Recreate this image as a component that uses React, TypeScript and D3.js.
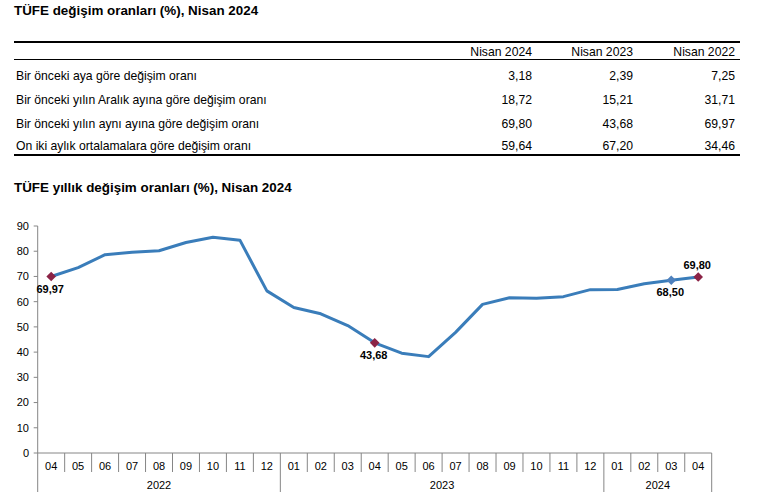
import React from 'react';
import * as d3 from 'd3';

const tableTitle = 'TÜFE değişim oranları (%), Nisan 2024';
const chartTitle = 'TÜFE yıllık değişim oranları (%), Nisan 2024';

const tableColumns = ['Nisan 2024', 'Nisan 2023', 'Nisan 2022'];
const tableRowLabels = [
    'Bir önceki aya göre değişim oranı',
    'Bir önceki yılın Aralık ayına göre değişim oranı',
    'Bir önceki yılın aynı ayına göre değişim oranı',
    'On iki aylık ortalamalara göre değişim oranı'
];
const tableValues = [
    ['3,18', '2,39', '7,25'],
    ['18,72', '15,21', '31,71'],
    ['69,80', '43,68', '69,97'],
    ['59,64', '67,20', '34,46']
];

const months = ['04', '05', '06', '07', '08', '09', '10', '11', '12',
    '01', '02', '03', '04', '05', '06', '07', '08', '09', '10', '11', '12',
    '01', '02', '03', '04'];
const years = ['2022', '2023', '2024'];
// how many months of each year are on the axis
const yearCounts = [9, 12, 4];
const inflation = [69.97, 73.50, 78.62, 79.60, 80.21, 83.45, 85.51, 84.39, 64.27,
    57.68, 55.18, 50.51, 43.68, 39.59, 38.21, 47.83, 58.94, 61.53, 61.36, 61.98, 64.77,
    64.86, 67.07, 68.50, 69.80];
const yTicks = [0, 10, 20, 30, 40, 50, 60, 70, 80, 90];

// labelled points: index, label, placement, marker colour
const highlights = [
    { i: 0, text: '69,97', pos: 'below', color: '#8b2346' },
    { i: 12, text: '43,68', pos: 'below', color: '#8b2346' },
    { i: 23, text: '68,50', pos: 'below', color: '#4f81bd' },
    { i: 24, text: '69,80', pos: 'above', color: '#8b2346' }
];

const font = 'Arial, "Liberation Sans", sans-serif';

const App = () => {
    const width = 771;
    const height = 499;

    // chart area
    const left = 37.7;
    const right = 711.7;
    const top = 226;
    const bottom = 453;

    const x = d3.scaleBand<number>()
        .domain(months.map((_, i) => i))
        .range([left, right])
        .paddingInner(0)
        .paddingOuter(0);
    const y = d3.scaleLinear().domain([0, 90]).range([bottom, top]);
    const bw = x.bandwidth();
    const cx = (i: number) => (x(i) as number) + bw / 2;

    const line = d3.line<number>()
        .x((_, i) => cx(i))
        .y(d => y(d));

    // square diamond marker
    const diamond = 'M0,-4.8L4.8,0L0,4.8L-4.8,0Z';

    // year boundaries on the axis
    const yearStarts: number[] = [];
    yearCounts.reduce((acc, n) => { yearStarts.push(acc); return acc + n; }, 0);

    // table layout
    const tLeft = 14;
    const tRight = 740;
    const colRight = [532, 633, 735];
    const rowY = [80, 104, 128, 150];

    return (
        <svg width={width} height={height} style={{ position: 'absolute', left: 0, top: 0, fontFamily: font }}>
            <rect width={width} height={height} fill="#fff" />
            <text x={14} y={15} fontSize={13.4} fontWeight="bold" fill="#000">{tableTitle}</text>

            <line x1={tLeft} x2={tRight} y1={42} y2={42} stroke="#000" strokeWidth={2} />
            {tableColumns.map((c, j) => (
                <text key={c} x={colRight[j]} y={56} fontSize={12.2} textAnchor="end" fill="#000">{c}</text>
            ))}
            <line x1={tLeft} x2={tRight} y1={59.5} y2={59.5} stroke="#000" strokeWidth={1} />
            {tableRowLabels.map((r, k) => (
                <g key={r}>
                    <text x={16} y={rowY[k]} fontSize={12.2} fill="#000">{r}</text>
                    {tableValues[k].map((v, j) => (
                        <text key={j} x={colRight[j]} y={rowY[k]} fontSize={12.2} textAnchor="end" fill="#000">{v}</text>
                    ))}
                </g>
            ))}
            <line x1={tLeft} x2={tRight} y1={155} y2={155} stroke="#000" strokeWidth={2} />

            <text x={14} y={192} fontSize={13.4} fontWeight="bold" fill="#000">{chartTitle}</text>

            {/* y axis */}
            <line x1={left} x2={left} y1={top} y2={bottom} stroke="#868686" />
            {yTicks.map(t => (
                <g key={t}>
                    <line x1={left - 4} x2={left} y1={y(t)} y2={y(t)} stroke="#868686" />
                    <text x={29} y={y(t)} dy="0.35em" fontSize={11} textAnchor="end" fill="#000">{t}</text>
                </g>
            ))}

            {/* x axis */}
            <line x1={left} x2={right} y1={bottom} y2={bottom} stroke="#868686" />
            {months.map((m, i) => (
                <text key={i} x={cx(i)} y={470} fontSize={11} textAnchor="middle" fill="#000">{m}</text>
            ))}
            {d3.range(months.length + 1).map(i => {
                const xx = i < months.length ? (x(i) as number) : right;
                const isYear = i === 0 || i === months.length || yearStarts.includes(i);
                return (
                    <line key={i} x1={xx} x2={xx} y1={bottom} y2={isYear ? 492 : 472} stroke="#868686" />
                );
            })}
            {years.map((yr, k) => {
                const s = yearStarts[k];
                const e = s + yearCounts[k] - 1;
                const mid = ((x(s) as number) + (x(e) as number) + bw) / 2;
                return <text key={yr} x={mid} y={489} fontSize={11} textAnchor="middle" fill="#000">{yr}</text>;
            })}

            {/* series */}
            <path d={line(inflation) || ''} fill="none" stroke="#3a7dba" strokeWidth={3} strokeLinejoin="round" />
            {highlights.map(h => (
                <g key={h.i}>
                    <path d={diamond} transform={`translate(${cx(h.i)},${y(inflation[h.i])})`} fill={h.color} />
                    <text
                        x={cx(h.i) - 1}
                        y={y(inflation[h.i]) + (h.pos === 'below' ? 16 : -8)}
                        fontSize={11}
                        fontWeight="bold"
                        textAnchor="middle"
                        fill="#000"
                    >{h.text}</text>
                </g>
            ))}
        </svg>
    );
};

export default App;
